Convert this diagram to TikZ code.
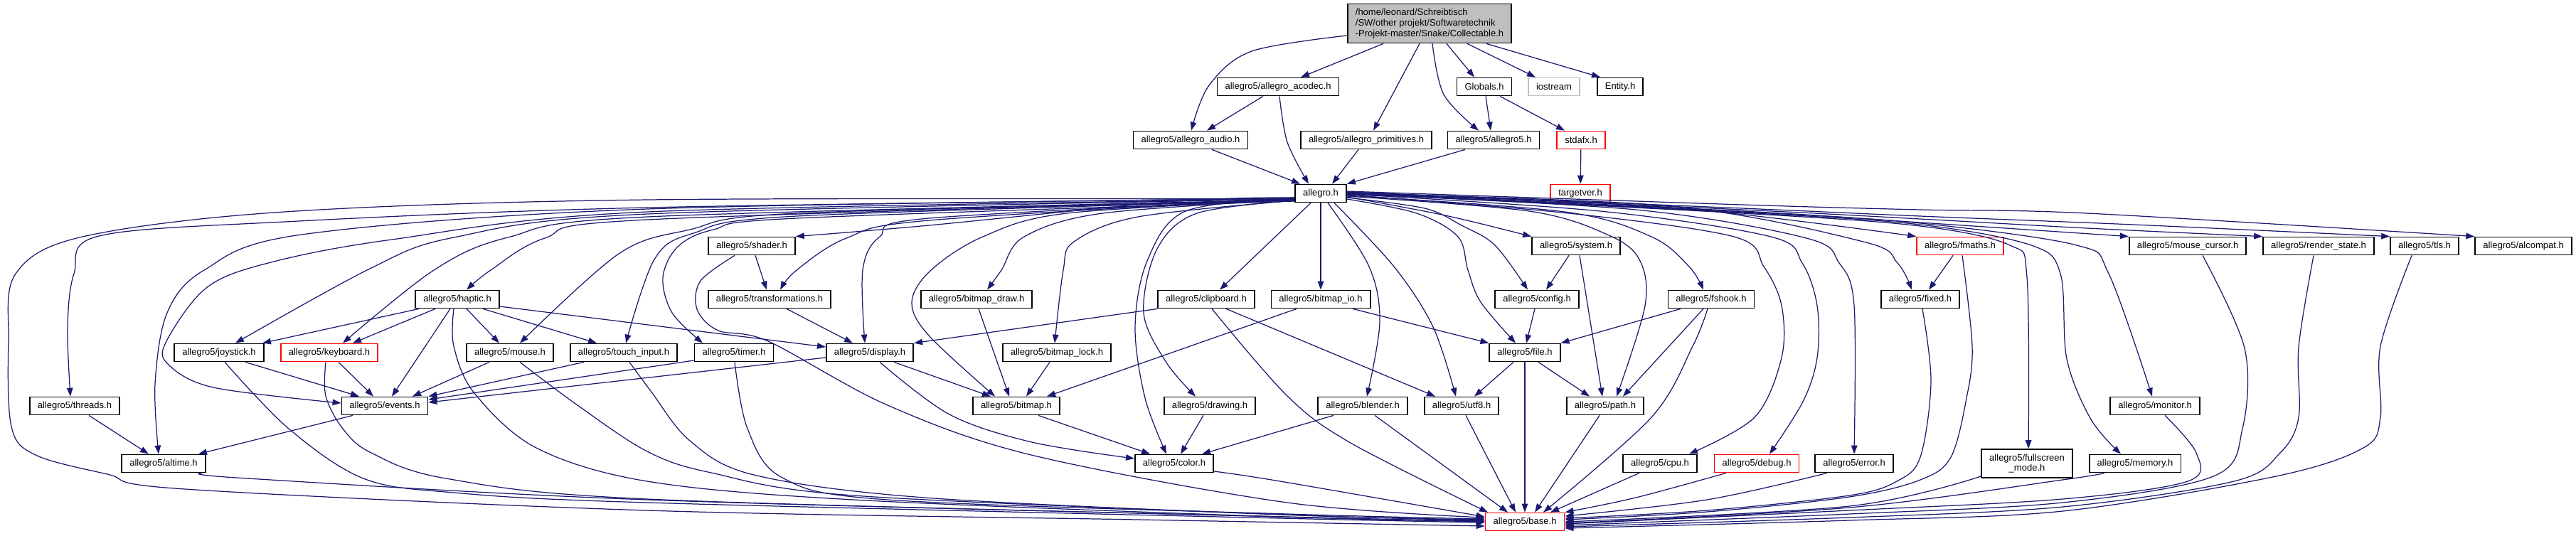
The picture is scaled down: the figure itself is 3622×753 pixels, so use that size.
\documentclass[tikz,border=0pt]{standalone}
\usepackage{fontspec}
\setmainfont{Liberation Sans}
\usetikzlibrary{arrows.meta}
\definecolor{edgec}{HTML}{191970}
\definecolor{graybg}{HTML}{BFBFBF}
\newcommand{\dfnt}{\fontsize{3.7pt}{4.2pt}\selectfont}
\begin{document}
\begin{tikzpicture}[x=0.01cm,y=-0.01cm,
 bx/.style={draw=black, fill=white, line width=0.5pt, font=\dfnt, minimum height=0.25cm, inner xsep=0.11cm, inner ysep=0pt},
 rbx/.style={bx, draw=red},
 ed/.style={draw=edgec, line width=0.35pt, -{Triangle[length=0.12cm,width=0.085cm]}},
 sm/.style={smooth, tension=0.55}]
\useasboundingbox (0,0) rectangle (3622,753);
% ---------- nodes ----------
\node[bx, fill=graybg, align=left, minimum height=0.55cm] (coll) at (2010,33) {/home/leonard/Schreibtisch\\/SW/other projekt/Softwaretechnik\\-Projekt-master/Snake/Collectable.h};
\node[bx] (acodec) at (1797,122) {allegro5/allegro\_acodec.h};
\node[bx] (glob) at (2087,122) {Globals.h};
\node[bx, draw=graybg] (iost) at (2185,122) {iostream};
\node[bx] (ent) at (2278,122) {Entity.h};
\node[bx] (audio) at (1674,197) {allegro5/allegro\_audio.h};
\node[bx] (prim) at (1921,197) {allegro5/allegro\_primitives.h};
\node[bx] (a5) at (2100,197) {allegro5/allegro5.h};
\node[rbx] (stdafx) at (2223,197) {stdafx.h};
\node[bx] (al) at (1857,272) {allegro.h};
\node[rbx] (targetver) at (2222,272) {targetver.h};
\node[bx] (shader) at (1057,346) {allegro5/shader.h};
\node[bx] (system) at (2216,346) {allegro5/system.h};
\node[rbx] (fmaths) at (2756,346) {allegro5/fmaths.h};
\node[bx] (mcursor) at (3076,346) {allegro5/mouse\_cursor.h};
\node[bx] (rstate) at (3260,346) {allegro5/render\_state.h};
\node[bx] (tls) at (3409,346) {allegro5/tls.h};
\node[bx] (alcompat) at (3548,346) {allegro5/alcompat.h};
\node[bx] (haptic) at (643,421) {allegro5/haptic.h};
\node[bx] (transf) at (1082,421) {allegro5/transformations.h};
\node[bx] (bdraw) at (1373,421) {allegro5/bitmap\_draw.h};
\node[bx] (clip) at (1696,421) {allegro5/clipboard.h};
\node[bx] (bio) at (1857,421) {allegro5/bitmap\_io.h};
\node[bx] (config) at (2161,421) {allegro5/config.h};
\node[bx] (fshook) at (2406,421) {allegro5/fshook.h};
\node[bx] (fixed) at (2700,421) {allegro5/fixed.h};
\node[bx] (joy) at (308,496) {allegro5/joystick.h};
\node[rbx] (kbd) at (463,496) {allegro5/keyboard.h};
\node[bx] (mouse) at (717,496) {allegro5/mouse.h};
\node[bx] (touch) at (877,496) {allegro5/touch\_input.h};
\node[bx] (timer) at (1032,496) {allegro5/timer.h};
\node[bx] (display) at (1223,496) {allegro5/display.h};
\node[bx] (block) at (1486,496) {allegro5/bitmap\_lock.h};
\node[bx] (file) at (2144,496) {allegro5/file.h};
\node[bx] (threads) at (105,571) {allegro5/threads.h};
\node[bx] (events) at (541,571) {allegro5/events.h};
\node[bx] (bitmap) at (1429,571) {allegro5/bitmap.h};
\node[bx] (drawing) at (1701,571) {allegro5/drawing.h};
\node[bx] (blender) at (1916,571) {allegro5/blender.h};
\node[bx] (utf8) at (2055,571) {allegro5/utf8.h};
\node[bx] (path) at (2257,571) {allegro5/path.h};
\node[bx] (monitor) at (3030,571) {allegro5/monitor.h};
\node[bx] (altime) at (230,652) {allegro5/altime.h};
\node[bx] (color) at (1651,652) {allegro5/color.h};
\node[bx] (cpu) at (2334,652) {allegro5/cpu.h};
\node[rbx] (debug) at (2470,652) {allegro5/debug.h};
\node[bx] (error) at (2607,652) {allegro5/error.h};
\node[bx, align=center, minimum height=0.40cm] (fullscreen) at (2850,652) {allegro5/fullscreen\\\_mode.h};
\node[bx] (memory) at (3002,652) {allegro5/memory.h};
\node[rbx] (base) at (2144,734) {allegro5/base.h};
% ---------- top edges ----------
\draw[ed] plot[sm] coordinates {(coll.west |- 0,50) (1760,72) (1700,120) (audio.north -| 1675,0)};
\draw[ed] (coll.south -| 1945,0) -- (acodec.north -| 1829,0);
\draw[ed] (coll.south -| 1996,0) -- (prim.north -| 1931,0);
\draw[ed] plot[sm] coordinates {(coll.south -| 2014,0) (2030,133) (a5.north -| 2079,0)};
\draw[ed] (coll.south -| 2034,0) -- (glob.north -| 2073,0);
\draw[ed] (coll.south -| 2063,0) -- (iost.north -| 2159,0);
\draw[ed] (coll.south -| 2090,0) -- (ent.north -| 2250,0);
\draw[ed] (acodec.south -| 1776,0) -- (audio.north -| 1697,0);
\draw[ed] plot[sm] coordinates {(acodec.south -| 1799,0) (1810,200) (al.north -| 1840,0)};
\draw[ed] (audio.south -| 1704,0) -- (al.north -| 1828,0);
\draw[ed] (prim.south -| 1910,0) -- (al.north -| 1873,0);
\draw[ed] (a5.south -| 2060,0) -- (al.north east);
\draw[ed] (glob.south -| 2089,0) -- (a5.north -| 2096,0);
\draw[ed] (glob.south -| 2109,0) -- (stdafx.north -| 2200,0);
\draw[ed] (stdafx) -- (targetver);
% ---------- allegro.h left fan ----------
\draw[ed] plot[sm] coordinates {(al.west |- 0,280) (910,281) (400,298) (116,333) (22,385) (12,480) (16,600) (50,640) (151,667) (260,688) (910,718) (1600,731) (base.west |- 0,740)};
\draw[ed] plot[sm] coordinates {(al.west |- 0,279) (910,292) (400,312) (139,332) (104,385) (95,460) (threads.north -| 99,0)};
\draw[ed] plot[sm] coordinates {(al.west |- 0,279) (910,294) (424,330) (287,380) (235,440) (218,540) (altime.north -| 223,0)};
\draw[ed] plot[sm] coordinates {(al.west |- 0,280) (910,298) (551,337) (377,370) (290,405) (234,480) (236,512) (300,545) (events.west |- 0,567)};
\draw[ed] plot[sm] coordinates {(al.west |- 0,280) (910,301) (638,334) (520,378) (joy.north -| 331,0)};
\draw[ed] plot[sm] coordinates {(al.west |- 0,281) (910,305) (714,334) (610,380) (kbd.north -| 482,0)};
\draw[ed] plot[sm] coordinates {(al.west |- 0,281) (910,309) (766,335) (690,380) (haptic.north -| 656,0)};
\draw[ed] plot[sm] coordinates {(al.west |- 0,282) (1120,300) (970,323) (870,357) (mouse.north -| 731,0)};
\draw[ed] plot[sm] coordinates {(al.west |- 0,282) (1120,304) (975,328) (920,365) (touch.north -| 880,0)};
\draw[ed] plot[sm] coordinates {(al.west |- 0,283) (1120,307) (1003,323) (953,347) (932,390) (945,440) (timer.north -| 988,0)};
\draw[ed] plot[sm] coordinates {(al.west |- 0,278) (1654,283) (1306,317) (shader.north east)};
\draw[ed] plot[sm] coordinates {(al.west |- 0,279) (1306,310) (1190,335) (1120,380) (transf.north -| 1097,0)};
\draw[ed] plot[sm] coordinates {(al.west |- 0,280) (1306,307) (1237,333) (1213,380) (display.north -| 1216,0)};
\draw[ed] plot[sm] coordinates {(al.west |- 0,281) (1500,300) (1382,333) (1309,380) (1282,425) (1306,472) (bitmap.north -| 1399,0)};
\draw[ed] plot[sm] coordinates {(al.west |- 0,281) (1550,300) (1440,333) (1408,380) (bdraw.north -| 1388,0)};
\draw[ed] plot[sm] coordinates {(al.west |- 0,282) (1600,305) (1510,340) (1495,380) (block.north -| 1483,0)};
\draw[ed] plot[sm] coordinates {(al.west |- 0,278) (1667,297) (1613,367) (1596,460) (1610,560) (color.north -| 1640,0)};
\draw[ed] plot[sm] coordinates {(al.west |- 0,282) (1683,300) (1627,350) (1608,440) (1640,510) (drawing.north -| 1681,0)};
\draw[ed] (al.south -| 1843,0) -- (clip.north -| 1715,0);
% ---------- allegro.h bottom / right ----------
\draw[ed] (al) -- (bio);
\draw[ed] plot[sm] coordinates {(al.south -| 1867,0) (1925,375) (1940,453) (blender.north -| 1922,0)};
\draw[ed] plot[sm] coordinates {(al.south -| 1876,0) (1960,375) (2015,460) (utf8.north -| 2047,0)};
\draw[ed] plot[sm] coordinates {(al.east |- 0,280) (1992,300) (2050,333) (2064,380) (2082,425) (file.north -| 2131,0)};
\draw[ed] plot[sm] coordinates {(al.east |- 0,278) (2003,293) (2055,317) (2102,345) (config.north -| 2148,0)};
\draw[ed] plot[sm] coordinates {(al.east |- 0,277) (2032,303) (system.north west)};
\draw[ed] plot[sm] coordinates {(al.east |- 0,276) (2150,297) (2260,330) (2305,365) (2313,430) (path.north -| 2273,0)};
\draw[ed] plot[sm] coordinates {(al.east |- 0,275) (2200,298) (2322,333) (2375,375) (fshook.north -| 2395,0)};
\draw[ed] plot[sm] coordinates {(al.east |- 0,274) (2206,300) (2438,333) (2480,375) (2505,430) (2505,503) (2467,587) (cpu.north -| 2375,0)};
\draw[ed] plot[sm] coordinates {(al.east |- 0,273) (2250,297) (2490,333) (2534,370) (2555,430) (2555,503) (2535,565) (debug.north -| 2488,0)};
\draw[ed] plot[sm] coordinates {(al.east |- 0,273) (2300,295) (2540,335) (2586,370) (2607,430) (error.north -| 2607,0)};
\draw[ed] plot[sm] coordinates {(al.east |- 0,272) (2350,290) (2620,340) (2668,370) (fixed.north -| 2688,0)};
\draw[ed] plot[sm] coordinates {(al.east |- 0,271) (2350,292) (fmaths.north west)};
\draw[ed] plot[sm] coordinates {(al.east |- 0,272) (2450,300) (2700,318) (2826,345) (2850,390) (fullscreen.north -| 2852,0)};
\draw[ed] plot[sm] coordinates {(al.east |- 0,272) (2450,299) (2700,316) (2856,345) (2897,385) (2906,505) (2940,590) (memory.north -| 2982,0)};
\draw[ed] plot[sm] coordinates {(al.east |- 0,272) (2450,298) (2700,314) (2920,345) (2965,385) (monitor.north -| 3026,0)};
\draw[ed] plot[sm] coordinates {(al.east |- 0,271) (2450,297) (2700,313) (mcursor.north west)};
\draw[ed] plot[sm] coordinates {(al.east |- 0,270) (2450,295) (2700,308) (2935,321) (rstate.north west)};
\draw[ed] plot[sm] coordinates {(al.east |- 0,270) (2450,293) (2700,304) (3000,316) (tls.north west)};
\draw[ed] plot[sm] coordinates {(al.east |- 0,269) (2450,288) (2700,295) (2935,300) (alcompat.north west)};
% ---------- middle edges ----------
\draw[ed] (system.south -| 2206,0) -- (config.north -| 2174,0);
\draw[ed] (system.south -| 2221,0) -- (path.north -| 2253,0);
\draw[ed] (fmaths.south -| 2746,0) -- (fixed.north -| 2712,0);
\draw[ed] (shader.south -| 1062,0) -- (transf.north -| 1078,0);
\draw[ed] (haptic.south -| 589,0) -- (joy.north -| 369,0);
\draw[ed] (haptic.south -| 612,0) -- (kbd.north -| 496,0);
\draw[ed] (haptic.south -| 633,0) -- (events.north -| 551,0);
\draw[ed] (haptic.south -| 656,0) -- (mouse.north -| 702,0);
\draw[ed] (haptic.south -| 679,0) -- (touch.north -| 839,0);
\draw[ed] (haptic.east |- 0,431) -- (display.west |- 0,488);
\draw[ed] (joy.south -| 345,0) -- (events.north -| 505,0);
\draw[ed] (kbd.south -| 476,0) -- (events.north -| 525,0);
\draw[ed] (mouse.south -| 688,0) -- (events.north -| 580,0);
\draw[ed] (touch.south -| 821,0) -- (events.north east);
\draw[ed] (timer.west |- 0,507) -- (events.east |- 0,562);
\draw[ed] (display.west |- 0,503) -- (events.east |- 0,566);
\draw[ed] (events.south -| 496,0) -- (altime.north -| 279,0);
\draw[ed] (threads.south -| 125,0) -- (altime.north -| 209,0);
\draw[ed] (transf.south -| 1106,0) -- (display.north -| 1199,0);
\draw[ed] (clip.south west) -- (display.north east);
\draw[ed] (clip.south -| 1724,0) -- (utf8.north -| 2018,0);
\draw[ed] (display.south -| 1257,0) -- (bitmap.north -| 1393,0);
\draw[ed] plot[sm] coordinates {(display.south -| 1237,0) (1335,583) (1451,622) (color.west |- 0,645)};
\draw[ed] (bdraw.south -| 1376,0) -- (bitmap.north -| 1419,0);
\draw[ed] (block.south -| 1476,0) -- (bitmap.north -| 1443,0);
\draw[ed] (bio.south -| 1823,0) -- (bitmap.north -| 1472,0);
\draw[ed] (bio.south -| 1902,0) -- (file.north west);
\draw[ed] (bitmap.south -| 1460,0) -- (color.north -| 1617,0);
\draw[ed] (drawing.south -| 1692,0) -- (color.north -| 1660,0);
\draw[ed] (blender.south -| 1875,0) -- (color.north -| 1690,0);
\draw[ed] (config.south -| 2158,0) -- (file.north -| 2146,0);
\draw[ed] (fshook.south -| 2363,0) -- (file.north east);
\draw[ed] (fshook.south -| 2395,0) -- (path.north -| 2282,0);
\draw[ed] (file.south -| 2128,0) -- (utf8.north -| 2073,0);
\draw[ed] (file.south -| 2163,0) -- (path.north -| 2235,0);
% ---------- edges into base.h ----------
\draw[ed] plot[sm] coordinates {(altime.south -| 284,0) (348,673) (910,703) (1810,727) (base.west |- 0,733)};
\draw[ed] plot[sm] coordinates {(joy.south -| 316,0) (406,603) (511,673) (638,693) (910,707) (1800,729) (base.west |- 0,735)};
\draw[ed] plot[sm] coordinates {(kbd.south -| 458,0) (458,557) (482,603) (522,637) (627,673) (910,702) (1800,727) (base.west |- 0,734)};
\draw[ed] plot[sm] coordinates {(haptic.south -| 638,0) (638,487) (667,553) (754,630) (910,677) (1200,703) (1800,727) (base.west |- 0,733)};
\draw[ed] plot[sm] coordinates {(mouse.south -| 731,0) (812,570) (910,635) (1000,665) (1200,697) (1810,724) (base.west |- 0,732)};
\draw[ed] plot[sm] coordinates {(touch.south -| 885,0) (915,550) (970,620) (1060,668) (1300,700) (1800,724) (base.west |- 0,731)};
\draw[ed] plot[sm] coordinates {(timer.south -| 1033,0) (1051,603) (1100,672) (1248,703) (1810,723) (base.west |- 0,730)};
\draw[ed] plot[sm] coordinates {(shader.south -| 1033,0) (985,395) (980,435) (1010,465) (1080,480) (1248,570) (1450,640) (1810,707) (base.west |- 0,728)};
\draw[ed] plot[sm] coordinates {(color.east |- 0,663) (1800,677) (base.west |- 0,727)};
\draw[ed] plot[sm] coordinates {(clip.south -| 1704,0) (1810,557) (1899,623) (base.north -| 2092,0)};
\draw[ed] (blender.south -| 1933,0) -- (base.north -| 2120,0);
\draw[ed] (utf8.south -| 2061,0) -- (base.north -| 2131,0);
\draw[ed] (file) -- (base);
\draw[ed] (path.south -| 2249,0) -- (base.north -| 2158,0);
\draw[ed] plot[sm] coordinates {(fshook.south -| 2401,0) (2380,487) (2322,587) (base.north -| 2170,0)};
\draw[ed] (cpu.south -| 2305,0) -- (base.north -| 2180,0);
\draw[ed] plot[sm] coordinates {(debug.south -| 2427,0) (2300,700) (base.north east)};
\draw[ed] plot[sm] coordinates {(error.south -| 2569,0) (2400,703) (base.east |- 0,726)};
\draw[ed] plot[sm] coordinates {(fixed.south -| 2703,0) (2715,537) (2700,643) (2667,677) (2600,697) (2400,718) (base.east |- 0,729)};
\draw[ed] plot[sm] coordinates {(fmaths.south -| 2759,0) (2773,487) (2765,560) (2743,643) (2700,675) (2600,699) (2400,720) (base.east |- 0,731)};
\draw[ed] plot[sm] coordinates {(fullscreen.west |- 0,670) (2600,712) (base.east |- 0,734)};
\draw[ed] plot[sm] coordinates {(memory.south -| 2959,0) (2900,675) (2600,714) (base.east |- 0,736)};
\draw[ed] plot[sm] coordinates {(monitor.south -| 3044,0) (3088,637) (3076,677) (2900,702) (2600,718) (base.east |- 0,737)};
\draw[ed] plot[sm] coordinates {(mcursor.south -| 3097,0) (3156,490) (3153,603) (3112,670) (2900,707) (2600,723) (base.east |- 0,739)};
\draw[ed] plot[sm] coordinates {(rstate.south -| 3253,0) (3232,488) (3232,587) (3206,637) (3141,677) (2900,713) (2600,728) (base.east |- 0,741)};
\draw[ed] plot[sm] coordinates {(tls.south -| 3391,0) (3347,487) (3347,587) (3323,630) (3200,670) (2900,719) (2600,732) (base.east |- 0,743)};
\end{tikzpicture}
\end{document}
